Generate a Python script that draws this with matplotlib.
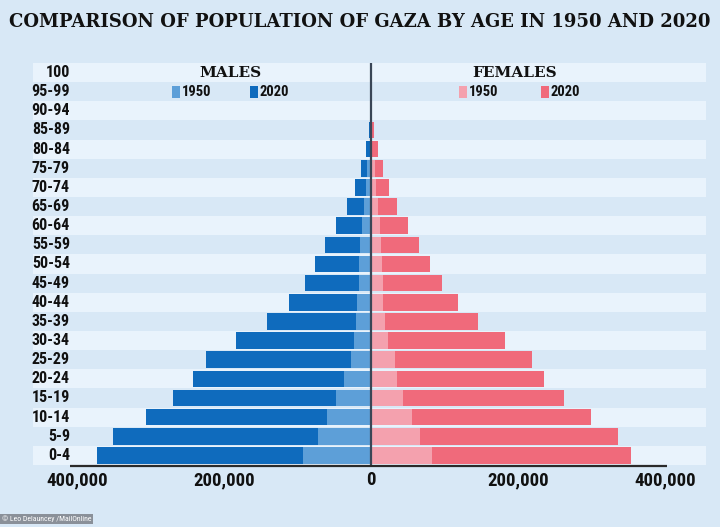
import matplotlib
matplotlib.use("Agg")
import matplotlib.pyplot as plt
from matplotlib.patches import Rectangle

ages = ["0-4", "5-9", "10-14", "15-19", "20-24", "25-29", "30-34", "35-39", "40-44",
        "45-49", "50-54", "55-59", "60-64", "65-69", "70-74", "75-79", "80-84",
        "85-89", "90-94", "95-99", "100"]
male_2020 = [373000, 351000, 306000, 270000, 242000, 224000, 184000, 142000, 111000,
             90000, 76000, 63000, 48000, 33000, 22000, 14000, 7000, 3000, 500, 0, 0]
male_1950 = [92000, 72000, 60000, 47000, 37000, 27000, 23000, 20000, 19000,
             17000, 16000, 15000, 12000, 10000, 7000, 5000, 2000, 1000, 0, 0, 0]
female_2020 = [354000, 336000, 300000, 263000, 236000, 219000, 182000, 146000, 118000,
               96000, 80000, 65000, 50000, 36000, 25000, 17000, 9000, 4000, 1000, 0, 0]
female_1950 = [83000, 67000, 56000, 44000, 36000, 32000, 23000, 19000, 17000,
               16000, 15000, 14000, 12000, 10000, 7000, 5000, 2000, 1000, 0, 0, 0]
xticks = [-400000, -200000, 0, 200000, 400000]
xticklabels = ["400,000", "200,000", "0", "200,000", "400,000"]
title = "COMPARISON OF POPULATION OF GAZA BY AGE IN 1950 AND 2020"

BG = "#d8e8f6"
STRIPE = "#e9f3fc"
M20 = "#0f6bbd"
M50 = "#5d9fd8"
F20 = "#f06a7b"
F50 = "#f4a1ae"
TXT = "#111111"
NARROW = ["Roboto Condensed", "Liberation Sans Narrow", "Liberation Sans", "DejaVu Sans"]
SERIF = ["DejaVu Serif"]

W, H = 720, 527
fig = plt.figure(figsize=(7.2, 5.27), dpi=100, facecolor=BG)

ax = fig.add_axes([33 / W, 1 - 465 / H, (706 - 33) / W, (465 - 63) / H])
ax.set_facecolor(BG)
px_per_unit = 0.735 / 1000
xmin = -(371 - 33) / px_per_unit
xmax = (706 - 371) / px_per_unit
ax.set_xlim(xmin, xmax)
ax.set_ylim(-0.5, len(ages) - 0.5)
for s in ax.spines.values():
    s.set_visible(False)
ax.set_xticks([])
ax.set_yticks([])

for i in range(len(ages)):
    if i % 2 == 0:
        ax.axhspan(i - 0.5, i + 0.5, color=STRIPE, lw=0, zorder=0)

y = list(range(len(ages)))
h = 0.86
ax.barh(y, [-v for v in male_2020], height=h, color=M20, zorder=2)
ax.barh(y, [-v for v in male_1950], height=h, color=M50, zorder=3)
ax.barh(y, female_2020, height=h, color=F20, zorder=2)
ax.barh(y, female_1950, height=h, color=F50, zorder=3)

ax.plot([0, 0], [-0.5, len(ages) - 0.05], color="#3a4656", lw=1.6, zorder=4,
        solid_capstyle="butt")
ax.plot([-409000, 403000], [-0.55, -0.55], color="#2a2a2a", lw=1.6, zorder=4,
        clip_on=False, solid_capstyle="butt")

for xv, lab in zip(xticks, xticklabels):
    ax.text(xv, -1.3, lab, ha="center", va="center", fontsize=13.5,
            fontweight="bold", family=NARROW, color=TXT, clip_on=False)

x_lab = (70 - 371) / px_per_unit
for i, a in enumerate(ages):
    ax.text(x_lab, i, a, ha="right", va="center", fontsize=11.5,
            fontweight="bold", family=NARROW, color=TXT)

ax.text((230 - 371) / px_per_unit, 20, "MALES", ha="center", va="center",
        fontsize=11, fontweight="bold", family=SERIF, color=TXT)
ax.text((515 - 371) / px_per_unit, 20, "FEMALES", ha="center", va="center",
        fontsize=11, fontweight="bold", family=SERIF, color=TXT)

def legend_item(px_sq, color, label):
    x0 = (px_sq - 371) / px_per_unit
    wsq = 8 / px_per_unit
    ax.add_patch(Rectangle((x0, 19 - 0.32), wsq, 0.64, color=color, zorder=5, lw=0))
    ax.text(x0 + wsq + 2 / px_per_unit, 19, label, ha="left", va="center",
            fontsize=10.5, fontweight="bold", family=NARROW, color=TXT)

legend_item(172, M50, "1950")
legend_item(250, M20, "2020")
legend_item(459, F50, "1950")
legend_item(541, F20, "2020")

t = fig.text(360 / W, 1 - 22 / H, title, ha="center", va="center", fontsize=15,
             fontweight="bold", family=SERIF, color=TXT)
fig.canvas.draw()
wpx = t.get_window_extent().width
target = 704
t.set_fontsize(15 * target / wpx)

fig.text(2 / W, 1 - 519 / H, "© Leo Delauncey /MailOnline", ha="left", va="center",
         fontsize=5.6, color="white", family=NARROW,
         bbox=dict(boxstyle="square,pad=0.25", fc="#8a9099", ec="none"))

fig.savefig("out.png", dpi=100, facecolor=BG)
